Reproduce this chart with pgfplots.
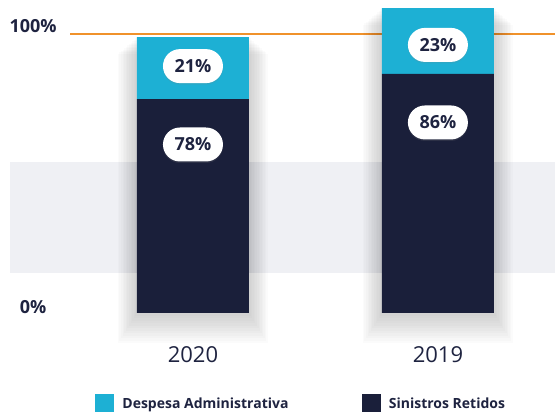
\documentclass[border=0pt]{standalone}
\usepackage{pgfplots}
\pgfplotsset{compat=1.18}
\usepackage{fontspec}
\setmainfont{Open Sans}
\usetikzlibrary{shapes.misc,shadows}
\definecolor{navy}{HTML}{1A1F3A}
\definecolor{cyanbar}{HTML}{1DB0D4}
\definecolor{band}{HTML}{EFF0F4}
\definecolor{orangeline}{HTML}{F0922B}
\definecolor{txt}{HTML}{1E2340}
\tikzset{pill/.style={rounded rectangle, fill=white, minimum width=60pt, minimum height=34pt, inner sep=0pt,
    font=\bfseries\fontsize{18}{20}\selectfont, text=txt,
    drop shadow={opacity=0.18, shadow xshift=0pt, shadow yshift=-1.5pt}}}
\pgfplotsset{base/.style={
  scale only axis, width=545pt, height=313pt,
  at={(10pt,99pt)}, anchor=south west,
  xmin=-0.747, xmax=1.478, ymin=0, ymax=112.2,
  axis line style={draw=none}, clip=false,
  major tick length=0pt, ytick=\empty,
}}
\pgfplotsset{shadowlayer/.style={fill=black, fill opacity=0.017, draw=none}}
\newcommand\shl[4]{\addplot[shadowlayer] coordinates {(#1,#3) (#2,#3) (#2,#4) (#1,#4)} -- cycle;}
\begin{document}
\begin{tikzpicture}
% background: band, 100% line, bar shadows
\begin{axis}[base, xtick=\empty]
\addplot[fill=band, draw=none] coordinates {(-0.747,14.3) (1.478,14.3) (1.478,54.1) (-0.747,54.1)} -- cycle;
\addplot[draw=orangeline, line width=2.8pt] coordinates {(-0.502,100) (1.478,100)};
% soft shadow layers, 2020 bar
\shl{-0.2351}{0.2351}{-0.9}{98.4}
\shl{-0.2416}{0.2416}{-1.8}{97.9}
\shl{-0.2481}{0.2481}{-2.7}{97.4}
\shl{-0.2546}{0.2546}{-3.6}{96.9}
\shl{-0.2611}{0.2611}{-4.5}{96.4}
\shl{-0.2676}{0.2676}{-5.4}{95.9}
\shl{-0.2741}{0.2741}{-6.3}{95.4}
\shl{-0.2806}{0.2806}{-7.2}{94.9}
\shl{-0.2871}{0.2871}{-8.1}{94.4}
\shl{-0.2936}{0.2936}{-9.0}{93.9}
\shl{-0.3001}{0.3001}{-9.9}{93.4}
\shl{-0.3066}{0.3066}{-10.8}{92.9}
% soft shadow layers, 2019 bar
\shl{0.7649}{1.2351}{-0.9}{108.8}
\shl{0.7584}{1.2416}{-1.8}{108.3}
\shl{0.7519}{1.2481}{-2.7}{107.8}
\shl{0.7454}{1.2546}{-3.6}{107.3}
\shl{0.7389}{1.2611}{-4.5}{106.8}
\shl{0.7324}{1.2676}{-5.4}{106.3}
\shl{0.7259}{1.2741}{-6.3}{105.8}
\shl{0.7194}{1.2806}{-7.2}{105.3}
\shl{0.7129}{1.2871}{-8.1}{104.8}
\shl{0.7064}{1.2936}{-9.0}{104.3}
\shl{0.6999}{1.3001}{-9.9}{103.8}
\shl{0.6934}{1.3066}{-10.8}{103.3}
\node[font=\bfseries\fontsize{18}{20}\selectfont, text=txt] at (axis cs:-0.653,102.9) {100\%};
\node[font=\bfseries\fontsize{18}{20}\selectfont, text=txt] at (axis cs:-0.653,2.3) {0\%};
\end{axis}
% bars
\begin{axis}[base, ybar stacked, bar width=112pt,
  xtick={0,1}, xticklabels={2020,2019},
  xticklabel style={anchor=center, yshift=-42pt, font=\fontsize{22}{26}\selectfont, text=txt},
  legend columns=2,
  legend style={at={(axis cs:-0.4,-29.0)}, anchor=north west, draw=none, fill=none,
    inner sep=0pt, outer sep=0pt,
    nodes={inner sep=0pt, text=txt, font=\bfseries\fontsize{14}{16}\selectfont, anchor=base west},
    /tikz/every odd column/.append style={column sep=9pt},
    /tikz/every even column/.append style={column sep=73pt}},
]
\addlegendimage{legend image code/.code={\fill[cyanbar] (0pt,-4pt) rectangle (18pt,14pt);}}
\addlegendentry{Despesa Administrativa}
\addlegendimage{legend image code/.code={\fill[navy] (0pt,-4pt) rectangle (18pt,14pt);}}
\addlegendentry{Sinistros Retidos}
\addplot[fill=navy, draw=none, forget plot] coordinates {(0,76.7) (1,85.7)};
\addplot[fill=cyanbar, draw=none, forget plot] coordinates {(0,22.2) (1,23.6)};
\end{axis}
% labels in a plain overlay axis
\begin{axis}[base, xtick=\empty]
\node[pill] at (axis cs:0,88.5) {21\%};
\node[pill] at (axis cs:0,60.4) {78\%};
\node[pill] at (axis cs:1,96.1) {23\%};
\node[pill] at (axis cs:1,68.3) {86\%};
\end{axis}
\pgfresetboundingbox
\path (0,0) rectangle (555pt,412pt);
\end{tikzpicture}
\end{document}
